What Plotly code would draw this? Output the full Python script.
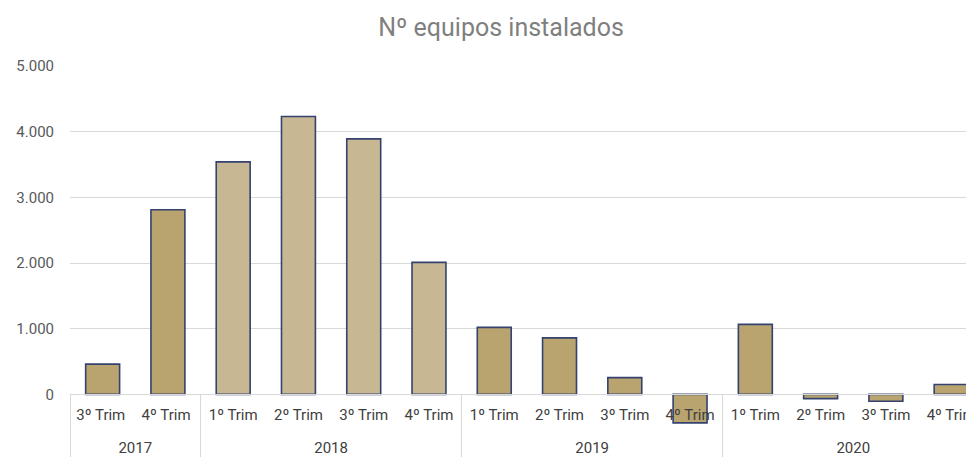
import plotly.graph_objects as go

years = ["2017", "2017", "2018", "2018", "2018", "2018",
         "2019", "2019", "2019", "2019", "2020", "2020", "2020", "2020"]
quarters = ["3º Trim", "4º Trim", "1º Trim", "2º Trim", "3º Trim", "4º Trim",
            "1º Trim", "2º Trim", "3º Trim", "4º Trim", "1º Trim", "2º Trim", "3º Trim", "4º Trim"]
values = [460, 2810, 3540, 4230, 3890, 2010,
          1020, 860, 255, -435, 1065, -65, -105, 150]
y_tickvals = [-1000, 0, 1000, 2000, 3000, 4000, 5000]
y_ticktext = ["-1.000", "0", "1.000", "2.000", "3.000", "4.000", "5.000"]

DARK = "#B9A470"
LIGHT = "#C7B793"
colors = [LIGHT if y == "2018" else DARK for y in years]

FONT = "Roboto"

# year labels pushed down one line to mimic the spreadsheet table layout
year_labels = ["<br>" + y for y in years]
# plotly orders the inner level by first appearance; a trailing space keeps
# the 2017 labels distinct so later years keep 1º..4º order
quarter_labels = [q + " " if y == years[0] else q for y, q in zip(years, quarters)]

# page body has an 8px margin: size the figure so the visible window matches
W, H = 966, 457

fig = go.Figure(go.Bar(
    x=[year_labels, quarter_labels],
    y=values,
    marker=dict(color=colors, line=dict(color="#34426F", width=1.6)),
    width=0.52,
))

fig.update_layout(
    width=W, height=H,
    margin=dict(l=62, r=0, t=58, b=5),
    paper_bgcolor="white", plot_bgcolor="white",
    showlegend=False,
    title=dict(text="Nº equipos instalados", x=493 / W, xanchor="center",
               y=1 - 19 / H, yanchor="middle",
               font=dict(family=FONT, size=25, color="#7F7F7F")),
    font=dict(family=FONT, size=15, color="#404040"),
)

fig.update_yaxes(
    range=[-1000, 5000],
    tickvals=y_tickvals, ticktext=y_ticktext,
    showgrid=True, gridcolor="#D9D9D9", gridwidth=1,
    zeroline=True, zerolinecolor="#D9D9D9", zerolinewidth=1,
    tickfont=dict(family=FONT, size=15, color="#595959"),
    ticks="", ticklabelstandoff=15, automargin=False,
)

fig.update_xaxes(
    type="multicategory",
    range=[-0.5, 13.35],
    anchor="free", position=1 / 6,
    showline=True, linecolor="#D9D9D9", linewidth=1,
    showdividers=True, dividercolor="#D9D9D9", dividerwidth=1,
    ticks="", showgrid=False, automargin=False,
    ticklabelstandoff=7,
    tickfont=dict(family=FONT, size=15, color="#404040"),
)

fig.write_html("out.html")
